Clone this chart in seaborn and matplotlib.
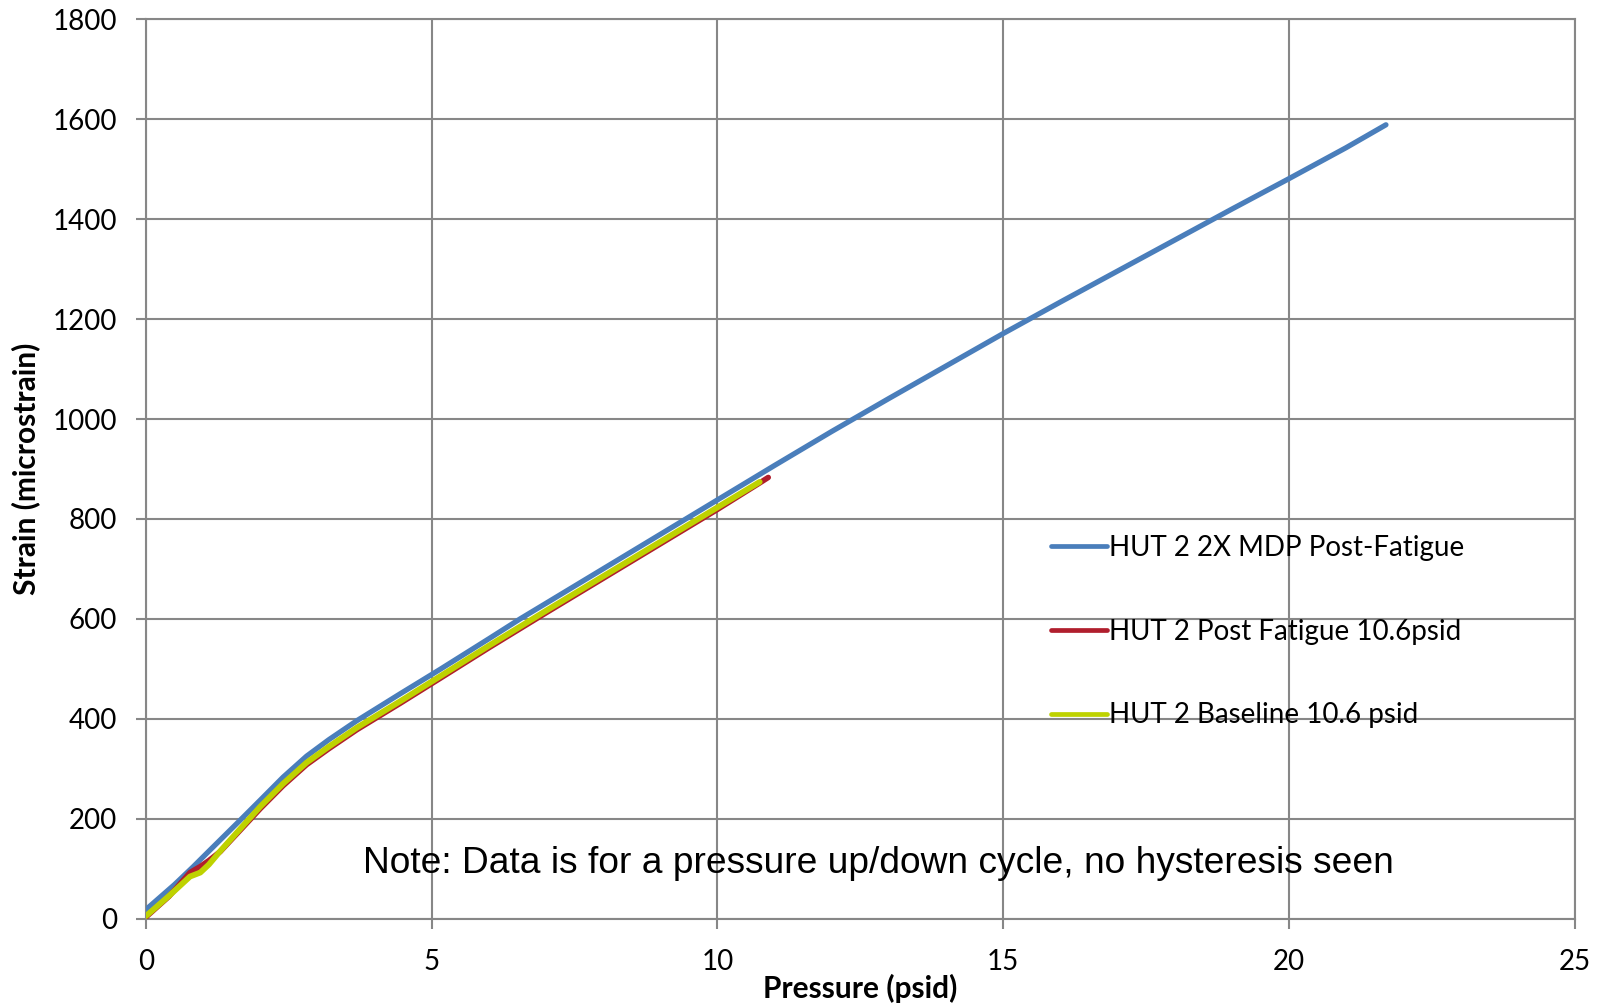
import pandas as pd
import matplotlib
matplotlib.use("Agg")
import matplotlib.pyplot as plt
import seaborn as sns

# Series (pressure in psid, strain in microstrain)
mdp_x = [0, 0.5, 0.83, 1.12, 1.65, 2.0, 2.4, 2.81, 3.2, 3.69, 4.45, 5.15, 6.0, 6.55,
         7, 8, 9, 10, 11, 12, 13, 14, 15, 16, 17, 18, 19, 20, 21, 21.7]
mdp_y = [18, 68, 104, 137, 197, 237, 283, 325, 358, 396, 450, 499, 560, 600,
         631, 700, 769, 838, 907, 975, 1041, 1106, 1171, 1234, 1296, 1358, 1420, 1481, 1543, 1589]

post_x = [0, 0.4, 0.77, 0.95, 1.1, 1.3, 1.7, 2.0, 2.4, 2.81, 3.2, 3.69, 4.45, 5.15,
          6, 7, 8, 9, 10, 10.74, 10.89]
post_y = [3, 44, 92, 104, 116, 134, 183, 220, 266, 308, 340, 378, 431, 481,
          542, 612, 681, 750, 819, 872, 883]

base_x = [0, 0.4, 0.77, 0.95, 1.1, 1.3, 1.7, 2.0, 2.4, 2.81, 3.2, 3.69, 4.45, 5.15,
          6, 7, 8, 9, 10, 10.74]
base_y = [5, 45, 84, 92, 108, 135, 186, 224, 270, 312, 344, 382, 435, 485,
          546, 616, 685, 754, 823, 874]

labels = ["HUT 2 2X MDP Post-Fatigue", "HUT 2 Post Fatigue 10.6psid", "HUT 2 Baseline 10.6 psid"]
colors = ["#4A7EBB", "#B01E2D", "#BED200"]
x_ticks = [0, 5, 10, 15, 20, 25]
y_ticks = list(range(0, 1801, 200))
note = "Note: Data is for a pressure up/down cycle, no hysteresis seen"

sns.set_theme(style="white")
plt.rcParams["font.family"] = ["Lato", "DejaVu Sans"]
plt.rcParams["text.color"] = "black"
plt.rcParams["axes.labelcolor"] = "black"
plt.rcParams["xtick.labelcolor"] = "black"
plt.rcParams["ytick.labelcolor"] = "black"

fig = plt.figure(figsize=(16, 10.07), dpi=100)
ax = fig.add_axes([146 / 1600, 1 - 918.5 / 1007, 1428.5 / 1600, 899.1 / 1007])

grid_col = "#878787"
series = [(mdp_x, mdp_y, 3.8), (post_x, post_y, 4.0), (base_x, base_y, 4.2)]
for (xs, ys, lw), lab, col in zip(series, labels, colors):
    df = pd.DataFrame({"p": xs, "s": ys})
    sns.lineplot(data=df, x="p", y="s", sort=False, estimator=None, ax=ax,
                 color=col, linewidth=lw, label=lab, solid_capstyle="round",
                 solid_joinstyle="round", zorder=3)

ax.set_xlim(0, 25)
ax.set_ylim(0, 1800)
ax.set_xticks(x_ticks)
ax.set_yticks(y_ticks)
ax.grid(True, color=grid_col, linewidth=1.5)
for sp in ax.spines.values():
    sp.set_color(grid_col)
    sp.set_linewidth(1.5)
ax.tick_params(axis="both", which="major", labelsize=20, length=7, width=1.5,
               color=grid_col, labelcolor="black", direction="out", left=True, bottom=True)
ax.tick_params(axis="x", pad=15)
ax.tick_params(axis="y", pad=14)

ax.set_xlabel("Pressure (psid)", fontsize=21.5, fontweight="bold", color="black")
ax.set_ylabel("Strain (microstrain)", fontsize=21.5, fontweight="bold", color="black")
ax.xaxis.set_label_coords(0.5, -0.062)
ax.yaxis.set_label_coords(-0.074, 0.5)

ax.text(12.82, 110, note, fontsize=26.7, family=["Liberation Sans", "DejaVu Sans"],
        color="black", ha="center", va="center", zorder=4)

leg = ax.legend(loc="center left", bbox_to_anchor=(0.6335, 0.319), frameon=False,
                fontsize=20, handlelength=2.0, handletextpad=0.1, labelspacing=2.08,
                borderpad=0, borderaxespad=0, labelcolor="black")
for h in leg.get_lines():
    h.set_linewidth(3.4)

fig.savefig("out.png", dpi=100, facecolor="white")
